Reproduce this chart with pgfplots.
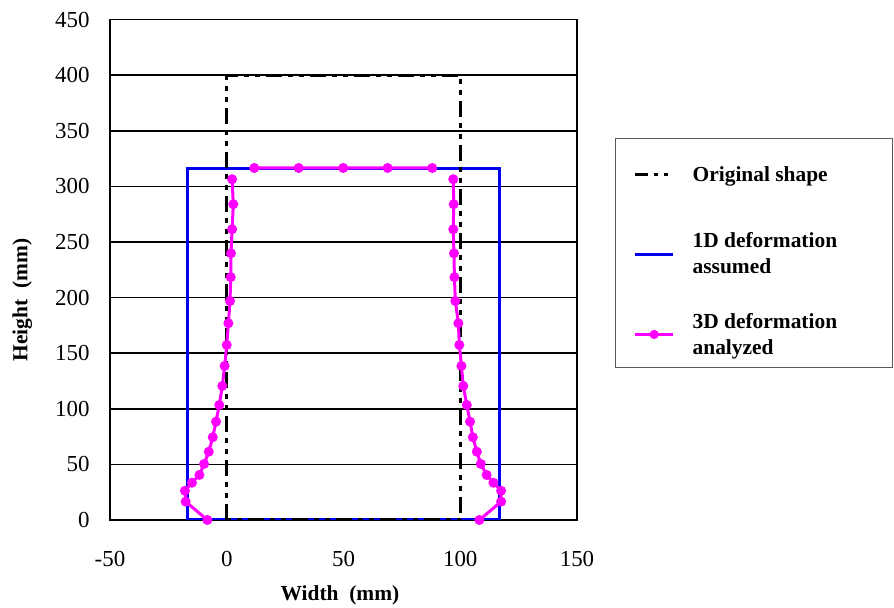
\documentclass[border=0pt]{standalone}
\usepackage{pgfplots}
\pgfplotsset{compat=1.18}
\usepackage{fontspec}
\setmainfont{Liberation Serif}
\definecolor{mblue}{RGB}{0,0,240}
\definecolor{mmag}{RGB}{255,0,255}
\definecolor{lgframe}{RGB}{90,90,90}
\begin{document}
\begin{tikzpicture}
\path[use as bounding box] (0bp,0bp) rectangle (894bp,608bp);
\begin{axis}[
  at={(110bp,88bp)}, anchor=south west,
  scale only axis, width=467bp, height=500.5bp,
  xmin=-50, xmax=150, ymin=0, ymax=450,
  xtick={-50,0,50,100,150}, ytick={0,50,100,150,200,250,300,350,400,450},
  major tick length=0pt,
  ymajorgrids, grid style={black, line width=1.6bp},
  axis line style={black, line width=1.6bp},
  /pgf/number format/assume math mode=true,
  tick label style={font=\fontsize{23}{27}\selectfont},
  yticklabel style={xshift=-17bp},
  xticklabel style={yshift=-28bp},
  xlabel={Width\ \ (mm)}, ylabel={Height\ \ (mm)},
  label style={font=\fontsize{21.5}{25}\selectfont\bfseries},
  xlabel style={at={(axis description cs:0.4925,-0.150)}, anchor=center},
  ylabel style={at={(axis description cs:-0.188,0.4396)}, anchor=center, rotate=0},
  unbounded coords=jump,
  legend image code/.code={\draw[mark repeat=2,mark phase=2,#1] plot coordinates {(0bp,0bp) (19bp,0bp) (38bp,0bp)};},
  legend cell align=left,
  legend style={at={(1.0814,0.763)}, anchor=north west, draw=lgframe, line width=1.3bp,
    inner xsep=18bp, inner ysep=10bp, row sep=34bp,
    font=\fontsize{21.5}{26}\selectfont\bfseries, cells={align=left},
    /tikz/every odd column/.append style={column sep=16bp}},
]
\addlegendimage{legend image code/.code={%
  \draw[black, solid, line width=3bp, dash pattern=on 13bp off 6bp on 4bp off 6bp on 4bp off 6bp] (0bp,0bp) -- (38bp,0bp);
  \path[draw=none, fill=none] (0bp,-22bp) rectangle (1bp,26bp);}}
\addlegendentry{Original shape\hspace*{45bp}}
\addlegendimage{mblue, line width=3bp}
\addlegendentry{1D deformation\\assumed}
\addlegendimage{mmag, line width=3bp, mark=*, mark size=3bp, mark options={solid}}
\addlegendentry{3D deformation\\analyzed}

\addplot[mblue, line width=3bp, forget plot] coordinates {
  (-17,0) (-17,315.6) (117,315.6) (117,0) (-17,0)
};
\addplot[black, line width=3bp, dash pattern=on 16bp off 6bp on 5bp off 6bp on 5bp off 6bp, forget plot] coordinates {
  (0,0) (0,400) (100,400) (100,0) (0,0)
};
\addplot[mmag, line width=3bp, mark=*, mark size=3.4bp, forget plot] coordinates {
  (-8.3,0) (-17.6,16.5) (-17.9,26.3) (-14.9,33.5) (-11.7,40.5) (-9.7,50.4) (-7.7,61.4)
  (-6.0,74.4) (-4.6,88.4) (-3.2,103.4) (-1.9,120.5) (-0.9,138.5) (0,157.4) (0.7,176.9)
  (1.4,196.9) (1.7,218.3) (1.8,239.8) (2.3,261.4) (2.8,283.9) (2.3,306.4)
  (nan,nan)
  (11.8,316.5) (30.8,316.5) (49.9,316.5) (68.9,316.5) (88.0,316.5)
  (nan,nan)
  (97.0,306.4) (97.2,283.9) (97.0,261.4) (97.3,239.8) (97.5,218.3) (97.9,196.9)
  (99.2,176.9) (99.6,157.4) (100.5,138.5) (101.3,120.5) (102.8,103.4) (104.2,88.4)
  (105.4,74.4) (107.1,61.4) (108.8,50.4) (111.3,40.5) (114.2,33.5) (117.5,26.3)
  (117.5,16.5) (108.2,0)
};
\end{axis}
\end{tikzpicture}
\end{document}
